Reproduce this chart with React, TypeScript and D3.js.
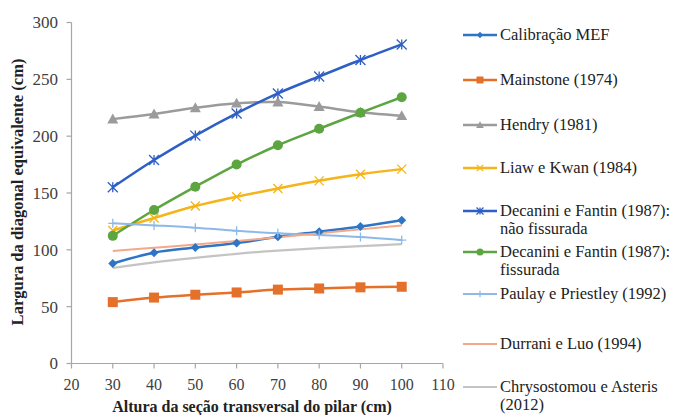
import React from "react";
import * as d3 from "d3";

const xValues = [30, 40, 50, 60, 70, 80, 90, 100];
const calibracao = [88, 97.5, 102, 106, 111.5, 116, 120.5, 126];
const mainstone = [54, 58, 60.5, 62.5, 65, 66, 67, 67.5];
const hendry = [215, 219.5, 225, 229, 230, 226, 221, 218];
const liawKwan = [117, 128, 138.5, 146.7, 154, 160.7, 166.5, 171];
const decaniniNaoFiss = [155, 179, 200.5, 220, 237.6, 252.5, 267, 280.7];
const decaniniFiss = [112.3, 135, 155.5, 175, 192, 206.5, 220.6, 234.2];
const paulay = [123.3, 121.5, 119.5, 116.7, 114.5, 113, 111.2, 108.6];
const durrani = [99, 101.8, 104.6, 107.8, 111, 114.5, 118, 121.5];
const chrysostomou = [84, 89, 93, 96.5, 99.3, 101.5, 103.3, 105];

const xTicks = [20, 30, 40, 50, 60, 70, 80, 90, 100, 110];
const yTicks = [0, 50, 100, 150, 200, 250, 300];

const seriesNames = [
  ["Calibração MEF"],
  ["Mainstone (1974)"],
  ["Hendry (1981)"],
  ["Liaw e Kwan (1984)"],
  ["Decanini e Fantin (1987):", "não fissurada"],
  ["Decanini e Fantin (1987):", "fissurada"],
  ["Paulay e Priestley (1992)"],
  ["Durrani e Luo (1994)"],
  ["Chrysostomou e Asteris", "(2012)"],
];
const seriesValues = [calibracao, mainstone, hendry, liawKwan, decaniniNaoFiss, decaniniFiss, paulay, durrani, chrysostomou];
const seriesColors = ["#2E75C6", "#E4702A", "#9B9B9B", "#F5B417", "#2F5FC4", "#5CA540", "#8DB9E8", "#F4A88A", "#C4C4C4"];
const seriesMarkers = ["diamond", "square", "triangle", "x", "star", "circle", "plus", "none", "none"];
const seriesWidths = [2.5, 2.5, 2.5, 2.5, 2.5, 2.5, 2, 2, 2.2];
const legendY = [35, 80, 125, 168, 211, 252, 294, 344, 387];

function markerPath(type: string, r: number): string {
  switch (type) {
    case "diamond":
      return `M0,${-r}L${r},0L0,${r}L${-r},0Z`;
    case "square":
      return `M${-r},${-r}H${r}V${r}H${-r}Z`;
    case "triangle":
      return `M0,${-r}L${r},${r * 0.8}L${-r},${r * 0.8}Z`;
    case "x":
      return `M${-r},${-r}L${r},${r}M${-r},${r}L${r},${-r}`;
    case "star":
      return `M${-r},${-r}L${r},${r}M${-r},${r}L${r},${-r}M0,${-r}L0,${r}`;
    case "plus":
      return `M${-r},0H${r}M0,${-r}V${r}`;
    default:
      return "";
  }
}

function Marker({ type, x, y, color, r }: { type: string; x: number; y: number; color: string; r: number }) {
  if (type === "none") return null;
  if (type === "circle") return <circle cx={x} cy={y} r={r} fill={color} />;
  const filled = type === "diamond" || type === "square" || type === "triangle";
  return (
    <path
      d={markerPath(type, r)}
      transform={`translate(${x},${y})`}
      fill={filled ? color : "none"}
      stroke={color}
      strokeWidth={filled ? 0 : 1.3}
    />
  );
}

export default function App() {
  const W = 675;
  const H = 415;
  const x = d3.scaleLinear().domain([20, 110]).range([71.5, 443]);
  const y = d3.scaleLinear().domain([0, 300]).range([363.5, 22.5]);
  const line = d3
    .line<number>()
    .x((_, i) => x(xValues[i]))
    .y((d) => y(d))
    .curve(d3.curveCatmullRom.alpha(0.5));
  const font = '"Liberation Serif", "Times New Roman", "DejaVu Serif", serif';
  const axisColor = "#A6A6A6";
  const markerR = [4.5, 5, 5.5, 4.5, 5, 5, 4.5, 0, 0];

  return (
    <svg width={W} height={H} style={{ position: "absolute", left: 0, top: 0, background: "#fff", fontFamily: font }}>
      <rect x={0} y={0} width={W} height={H} fill="#fff" />
      {/* axes */}
      <line x1={x(20)} x2={x(20)} y1={y(300)} y2={y(0)} stroke={axisColor} strokeWidth={1.2} />
      <line x1={x(20)} x2={x(110)} y1={y(0)} y2={y(0)} stroke={axisColor} strokeWidth={1.2} />
      {yTicks.map((t) => (
        <g key={"y" + t}>
          <line x1={x(20) - 5} x2={x(20)} y1={y(t)} y2={y(t)} stroke={axisColor} strokeWidth={1.2} />
          <text x={58} y={y(t)} dy="0.35em" textAnchor="end" fontSize={17} fill="#404040" style={{ fontFamily: font }}>
            {t}
          </text>
        </g>
      ))}
      {xTicks.map((t) => (
        <g key={"x" + t}>
          <line x1={x(t)} x2={x(t)} y1={y(0)} y2={y(0) + 5} stroke={axisColor} strokeWidth={1.2} />
          <text x={x(t)} y={384} dy="0.35em" textAnchor="middle" fontSize={16} fill="#404040" style={{ fontFamily: font }}>
            {t}
          </text>
        </g>
      ))}
      <text x={252} y={406} dy="0.35em" textAnchor="middle" fontSize={16} fontWeight="bold" fill="#222" style={{ fontFamily: font }}>
        Altura da seção transversal do pilar (cm)
      </text>
      <text
        transform={`translate(17,192) rotate(-90)`}
        dy="0.35em"
        textAnchor="middle"
        fontSize={16.5}
        fontWeight="bold"
        fill="#222"
        style={{ fontFamily: font }}
      >
        Largura da diagonal equivalente (cm)
      </text>

      {/* series */}
      {seriesValues.map((vals, si) => (
        <g key={"s" + si}>
          <path d={line(vals) || ""} fill="none" stroke={seriesColors[si]} strokeWidth={seriesWidths[si]} />
        </g>
      ))}
      {seriesValues.map((vals, si) => (
        <g key={"m" + si}>
          {vals.map((v, i) => (
            <Marker key={i} type={seriesMarkers[si]} x={x(xValues[i])} y={y(v)} color={seriesColors[si]} r={markerR[si]} />
          ))}
        </g>
      ))}

      {/* legend */}
      {seriesNames.map((lines, si) => (
        <g key={"l" + si}>
          <line x1={463} x2={497} y1={legendY[si]} y2={legendY[si]} stroke={seriesColors[si]} strokeWidth={seriesWidths[si]} />
          <Marker type={seriesMarkers[si]} x={480} y={legendY[si]} color={seriesColors[si]} r={markerR[si] * 0.7} />
          {lines.map((t, li) => (
            <text key={li} x={500} y={legendY[si] + li * 18} dy="0.33em" fontSize={16.5} fill="#222" style={{ fontFamily: font }}>
              {t}
            </text>
          ))}
        </g>
      ))}
    </svg>
  );
}
